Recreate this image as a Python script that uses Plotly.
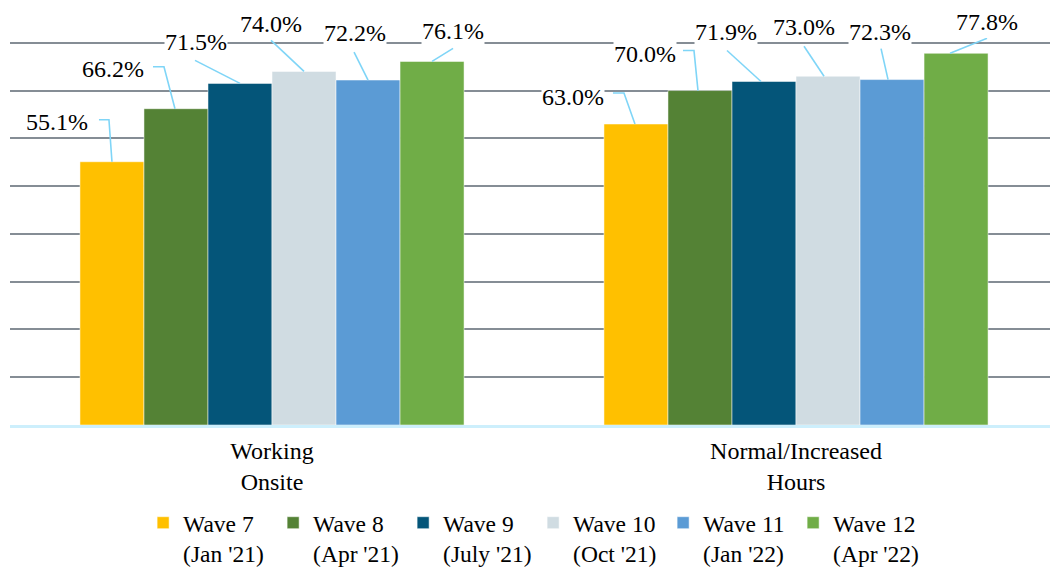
import plotly.graph_objects as go

categories = ["Working<br>Onsite", "Normal/Increased<br>Hours"]
series_names = ["Wave 7<br>(Jan '21)", "Wave 8<br>(Apr '21)", "Wave 9<br>(July '21)",
                "Wave 10<br>(Oct '21)", "Wave 11<br>(Jan '22)", "Wave 12<br>(Apr '22)"]
wave7 = [55.1, 63.0]
wave8 = [66.2, 70.0]
wave9 = [71.5, 71.9]
wave10 = [74.0, 73.0]
wave11 = [72.2, 72.3]
wave12 = [76.1, 77.8]
values = [wave7, wave8, wave9, wave10, wave11, wave12]
colors = ["#FFC000", "#548235", "#045579", "#D0DCE2", "#5B9BD5", "#70AD47"]

# label placement (pixels, relative to bar top; +y = up): label centre offset
label_offsets = [
    [(-55, 40), (-63, 27)],
    [(-63, 40), (-55, 37)],
    [(-44, 41), (-38, 49)],
    [(-33, 47), (-24, 49)],
    [(-13, 47), (-12, 48)],
    [(21, 30), (31, 31)],
]
# leader line paths (pixels, relative to bar top; +y = up)
leader_paths = [
    ["M0,0 L-3,42 L-13,42", "M-1,0 L-12,31 L-23,31"],
    ["M-1,0 L-12,42 L-23,42", "M-2,0 L-6,40 L-17,40"],
    ["M0,0 L-45,23", "M-3,0 L-37,31"],
    ["M0,0 L-33,31", "M-4,0 L-24,30"],
    ["M0,0 L-14,28", "M-4,0 L-11,31"],
    ["M0,0 L21,13", "M-6,0 L31,15"],
]

FONT = "Liberation Serif, serif"
LEADER = "#7FD5F7"
bargap = 0.267
n = len(values)
bw = (1 - bargap) / n

fig = go.Figure()
for i, (name, vals, col) in enumerate(zip(series_names, values, colors)):
    fig.add_trace(go.Bar(
        x=categories, y=vals, name=name,
        marker=dict(color=col, line=dict(color="rgba(255,255,255,0.5)", width=1)),
        hoverinfo="skip",
    ))

annotations = []
shapes = []
for i, vals in enumerate(values):
    for j, v in enumerate(vals):
        xc = j + (i - (n - 1) / 2) * bw
        dx, dy = label_offsets[i][j]
        shapes.append(dict(
            type="path", xref="x", yref="y", xsizemode="pixel", ysizemode="pixel",
            xanchor=xc, yanchor=v, path=leader_paths[i][j],
            line=dict(color=LEADER, width=1.6), layer="above",
        ))
        annotations.append(dict(
            x=xc, y=v, xref="x", yref="y", xshift=dx, yshift=dy,
            text=f"{v:.1f}%", showarrow=False,
            bgcolor="white", font=dict(family=FONT, size=24, color="black"),
            borderpad=0,
        ))

fig.update_layout(
    width=1050, height=577,
    margin=dict(l=10, r=0, t=38, b=152),
    paper_bgcolor="white", plot_bgcolor="white",
    barmode="group", bargap=bargap, bargroupgap=0,
    font=dict(family=FONT, size=24, color="black"),
    xaxis=dict(range=[-0.5, 1.4847], showgrid=False, showline=True,
               linecolor="#CDEFFC", linewidth=3, ticks="", ticklabelstandoff=2,
               tickfont=dict(family=FONT, size=24, color="black")),
    yaxis=dict(range=[0, 81], tickvals=[10, 20, 30, 40, 50, 60, 70, 80],
               showticklabels=False, showgrid=True, gridcolor="#858D95",
               gridwidth=2, zeroline=False, showline=False),
    legend=dict(orientation="h", x=0.503, xanchor="center", y=-0.39, yanchor="bottom",
                valign="top",
                font=dict(family=FONT, size=23.5, color="black"),
                entrywidth=85, entrywidthmode="pixels", itemwidth=30),
    annotations=annotations,
    shapes=shapes,
    showlegend=True,
)

fig.write_html("out.html")
